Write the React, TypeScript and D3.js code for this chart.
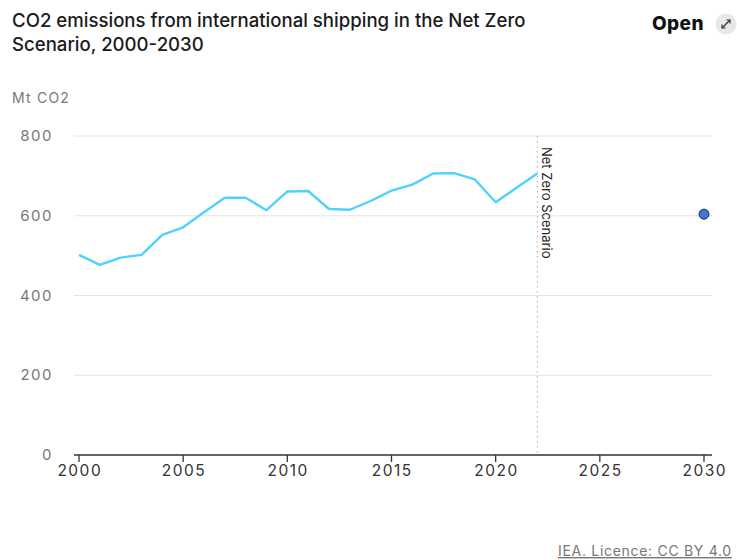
import { useEffect, useRef } from 'react';
import * as d3 from 'd3';

const years = [2000, 2001, 2002, 2003, 2004, 2005, 2006, 2007, 2008, 2009, 2010, 2011,
  2012, 2013, 2014, 2015, 2016, 2017, 2018, 2019, 2020, 2021, 2022];
const emissions = [502, 477, 495, 502, 552, 571, 609, 645, 645, 614, 661, 662,
  617, 615, 637, 663, 678, 706, 707, 691, 634, 670, 706];
const targetYear = [2030];
const targetValue = [604];
const yTicks = [0, 200, 400, 600, 800];
const xTicks = [2000, 2005, 2010, 2015, 2020, 2025, 2030];
const markerYear = 2022;
const markerLabel = 'Net Zero Scenario';

export default function App() {
  const svgRef = useRef<SVGSVGElement>(null);

  useEffect(() => {
    if (!svgRef.current) return;
    const width = 737;
    const height = 560;
    const font = 'Inter, "Noto Sans", sans-serif';

    const svg = d3.select(svgRef.current);
    svg.selectAll('*').remove();
    svg.attr('width', width).attr('height', height);

    const x = d3.scaleLinear().domain([2000, 2030]).range([79, 704]);
    const y = d3.scaleLinear().domain([0, 800]).range([455, 136]);

    // Title
    const title = svg.append('text')
      .attr('font-family', font)
      .attr('font-size', 18.6)
      .attr('font-weight', 500)
      .attr('fill', '#1b1b1b');
    title.append('tspan').attr('x', 12).attr('y', 27).text('CO2 emissions from international shipping in the Net Zero');
    title.append('tspan').attr('x', 12).attr('y', 51).text('Scenario, 2000-2030');

    // Open button
    svg.append('text')
      .attr('x', 652).attr('y', 30)
      .attr('font-family', font)
      .attr('font-size', 19)
      .attr('font-weight', 800)
      .attr('letter-spacing', 0.4)
      .attr('fill', '#111')
      .text('Open');
    svg.append('circle').attr('cx', 726).attr('cy', 24).attr('r', 10.5).attr('fill', '#e8e8e8');
    const icon = svg.append('g').attr('stroke', '#333').attr('stroke-width', 1.2).attr('fill', 'none');
    icon.append('path').attr('d', 'M722,28 L730,20');
    icon.append('path').attr('d', 'M726.5,20 L730,20 L730,23.5');
    icon.append('path').attr('d', 'M722,24.5 L722,28 L725.5,28');

    // Unit
    svg.append('text')
      .attr('x', 12).attr('y', 103)
      .attr('font-family', font)
      .attr('font-size', 14)
      .attr('letter-spacing', 1.2)
      .attr('fill', '#777')
      .text('Mt CO2');

    // Grid lines
    const grid = svg.append('g');
    grid.selectAll('line')
      .data(yTicks.filter((t) => t > 0))
      .join('line')
      .attr('x1', 74).attr('x2', 712)
      .attr('y1', (d) => y(d)).attr('y2', (d) => y(d))
      .attr('stroke', '#e4e4e4')
      .attr('stroke-width', 1);

    grid.selectAll('text')
      .data(yTicks)
      .join('text')
      .attr('x', 53)
      .attr('y', (d) => y(d) + 5)
      .attr('text-anchor', 'end')
      .attr('font-family', font)
      .attr('font-size', 15)
      .attr('letter-spacing', 1.5)
      .attr('fill', '#777')
      .text((d) => d);

    // Marker line
    svg.append('line')
      .attr('x1', x(markerYear)).attr('x2', x(markerYear))
      .attr('y1', y(800)).attr('y2', y(0))
      .attr('stroke', '#aaa')
      .attr('stroke-width', 1)
      .attr('stroke-dasharray', '1.5,3.5');
    svg.append('text')
      .attr('transform', `translate(${x(markerYear) + 5},${y(800) + 11}) rotate(90)`)
      .attr('font-family', font)
      .attr('font-size', 13)
      .attr('fill', '#222')
      .text(markerLabel);

    // X axis
    const axis = svg.append('g').attr('transform', `translate(0,${y(0)})`);
    axis.append('line').attr('x1', 74).attr('x2', 712).attr('stroke', '#333').attr('stroke-width', 1.3);
    axis.selectAll('line.tick')
      .data(xTicks)
      .join('line')
      .attr('class', 'tick')
      .attr('x1', (d) => x(d)).attr('x2', (d) => x(d))
      .attr('y1', 0).attr('y2', 7)
      .attr('stroke', '#333').attr('stroke-width', 1.3);
    axis.selectAll('text')
      .data(xTicks)
      .join('text')
      .attr('x', (d) => x(d) + 0.8)
      .attr('y', 21)
      .attr('text-anchor', 'middle')
      .attr('font-family', font)
      .attr('font-size', 15.5)
      .attr('letter-spacing', 1.5)
      .attr('fill', '#333')
      .text((d) => d);

    // Line
    const line = d3.line<number>()
      .x((_, i) => x(years[i]))
      .y((d) => y(d));
    svg.append('path')
      .datum(emissions)
      .attr('fill', 'none')
      .attr('stroke', '#4fd2fb')
      .attr('stroke-width', 2.4)
      .attr('stroke-linejoin', 'round')
      .attr('d', line);

    // 2030 target point
    svg.selectAll('circle.target')
      .data(targetValue)
      .join('circle')
      .attr('class', 'target')
      .attr('cx', (_, i) => x(targetYear[i]))
      .attr('cy', (d) => y(d))
      .attr('r', 5)
      .attr('fill', '#3d78d4')
      .attr('stroke', '#1d2f4d')
      .attr('stroke-width', 1);

    // Licence
    svg.append('text')
      .attr('x', 558).attr('y', 556)
      .attr('font-family', font)
      .attr('font-size', 14)
      .attr('letter-spacing', 0.7)
      .attr('fill', '#777')
      .attr('text-decoration', 'underline')
      .text('IEA. Licence: CC BY 4.0');
  }, []);

  return (
    <div style={{ position: 'fixed', left: 0, top: 0, width: 737, height: 560, overflow: 'hidden', background: '#fff' }}>
      <svg ref={svgRef} style={{ display: 'block' }} />
    </div>
  );
}
